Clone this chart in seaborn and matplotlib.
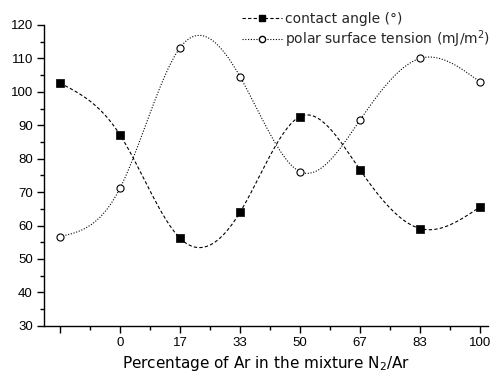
import numpy as np
import pandas as pd
import matplotlib
matplotlib.use("Agg")
import matplotlib.pyplot as plt
import seaborn as sns
from matplotlib.lines import Line2D
from matplotlib.ticker import MultipleLocator

categories = ["", "0", "17", "33", "50", "67", "83", "100"]
contact_angle = [102.6, 87.1, 56.2, 64.0, 92.6, 76.6, 59.1, 65.6]
polar_tension = [56.7, 71.2, 113.2, 104.5, 76.1, 91.6, 110.0, 102.9]


def natural_spline(x, y, n=400):
    x = np.asarray(x, float)
    y = np.asarray(y, float)
    m = len(x)
    h = np.diff(x)
    A = np.zeros((m, m))
    b = np.zeros(m)
    A[0, 0] = 1
    A[-1, -1] = 1
    for i in range(1, m - 1):
        A[i, i - 1] = h[i - 1]
        A[i, i] = 2 * (h[i - 1] + h[i])
        A[i, i + 1] = h[i]
        b[i] = 6 * ((y[i + 1] - y[i]) / h[i] - (y[i] - y[i - 1]) / h[i - 1])
    M = np.linalg.solve(A, b)
    xs = np.linspace(x[0], x[-1], n)
    idx = np.clip(np.searchsorted(x, xs) - 1, 0, m - 2)
    x0, x1 = x[idx], x[idx + 1]
    hh = x1 - x0
    t0 = x1 - xs
    t1 = xs - x0
    ys = (M[idx] * t0**3 / (6 * hh) + M[idx + 1] * t1**3 / (6 * hh)
          + (y[idx] / hh - M[idx] * hh / 6) * t0
          + (y[idx + 1] / hh - M[idx + 1] * hh / 6) * t1)
    return xs, ys


sns.set_theme(style="ticks")
plt.rcParams["font.family"] = ["Liberation Sans", "DejaVu Sans"]

fig = plt.figure(figsize=(5, 3.72), dpi=100)
ax = fig.add_axes([0.088, 0.124, 0.888, 0.809])

pos = np.arange(len(categories))
xs, ys = natural_spline(pos, contact_angle)
sns.lineplot(x=xs, y=ys, ax=ax, color="black", lw=0.8, linestyle=(0, (3, 2)))
xs, ys = natural_spline(pos, polar_tension)
sns.lineplot(x=xs, y=ys, ax=ax, color="black", lw=0.8, linestyle=(0, (1, 1.5)))

df = pd.DataFrame({"pos": pos, "ca": contact_angle, "pt": polar_tension})
sns.scatterplot(data=df, x="pos", y="ca", ax=ax, marker="s", s=30,
                color="black", edgecolor="black", linewidth=0.5, zorder=5)
sns.scatterplot(data=df, x="pos", y="pt", ax=ax, marker="o", s=26,
                facecolor="white", edgecolor="black", linewidth=0.8, zorder=5)

ax.set_xlim(-0.267, 7.13)
ax.set_ylim(30, 120)
ax.set_xticks(pos)
ax.set_xticklabels(categories)
ax.xaxis.set_minor_locator(MultipleLocator(0.5))
ax.yaxis.set_major_locator(MultipleLocator(10))
ax.yaxis.set_minor_locator(MultipleLocator(5))
ax.tick_params(axis="both", which="major", direction="out", length=5, width=1,
               labelsize=9.5, color="black", labelcolor="black", pad=3)
ax.tick_params(axis="both", which="minor", direction="out", length=3, width=1,
               color="black")
for s in ["top", "right"]:
    ax.spines[s].set_visible(False)
for s in ["left", "bottom"]:
    ax.spines[s].set_color("black")
    ax.spines[s].set_linewidth(1)

ax.set_xlabel("Percentage of Ar in the mixture N$_2$/Ar", fontsize=11,
              labelpad=3.5, color="black", family=["DejaVu Sans"])
ax.set_ylabel("")

handles = [
    Line2D([], [], color="black", lw=0.8, linestyle=(0, (3, 2)), marker="s",
           markersize=4.5, markerfacecolor="black"),
    Line2D([], [], color="black", lw=0.8, linestyle=(0, (1, 1.5)), marker="o",
           markersize=4.5, markerfacecolor="white"),
]
leg = fig.legend(handles, ["contact angle (°)", "polar surface tension (mJ/m$^2$)"],
                 loc="upper left", bbox_to_anchor=(242 / 500, 1 - 12 / 372),
                 bbox_transform=fig.transFigure, frameon=False,
                 prop={"family": "DejaVu Sans", "size": 10},
                 handlelength=2.9, handletextpad=0.2, labelspacing=0.18,
                 borderpad=0, borderaxespad=0, numpoints=1)

fig.savefig("out.png", dpi=100)
